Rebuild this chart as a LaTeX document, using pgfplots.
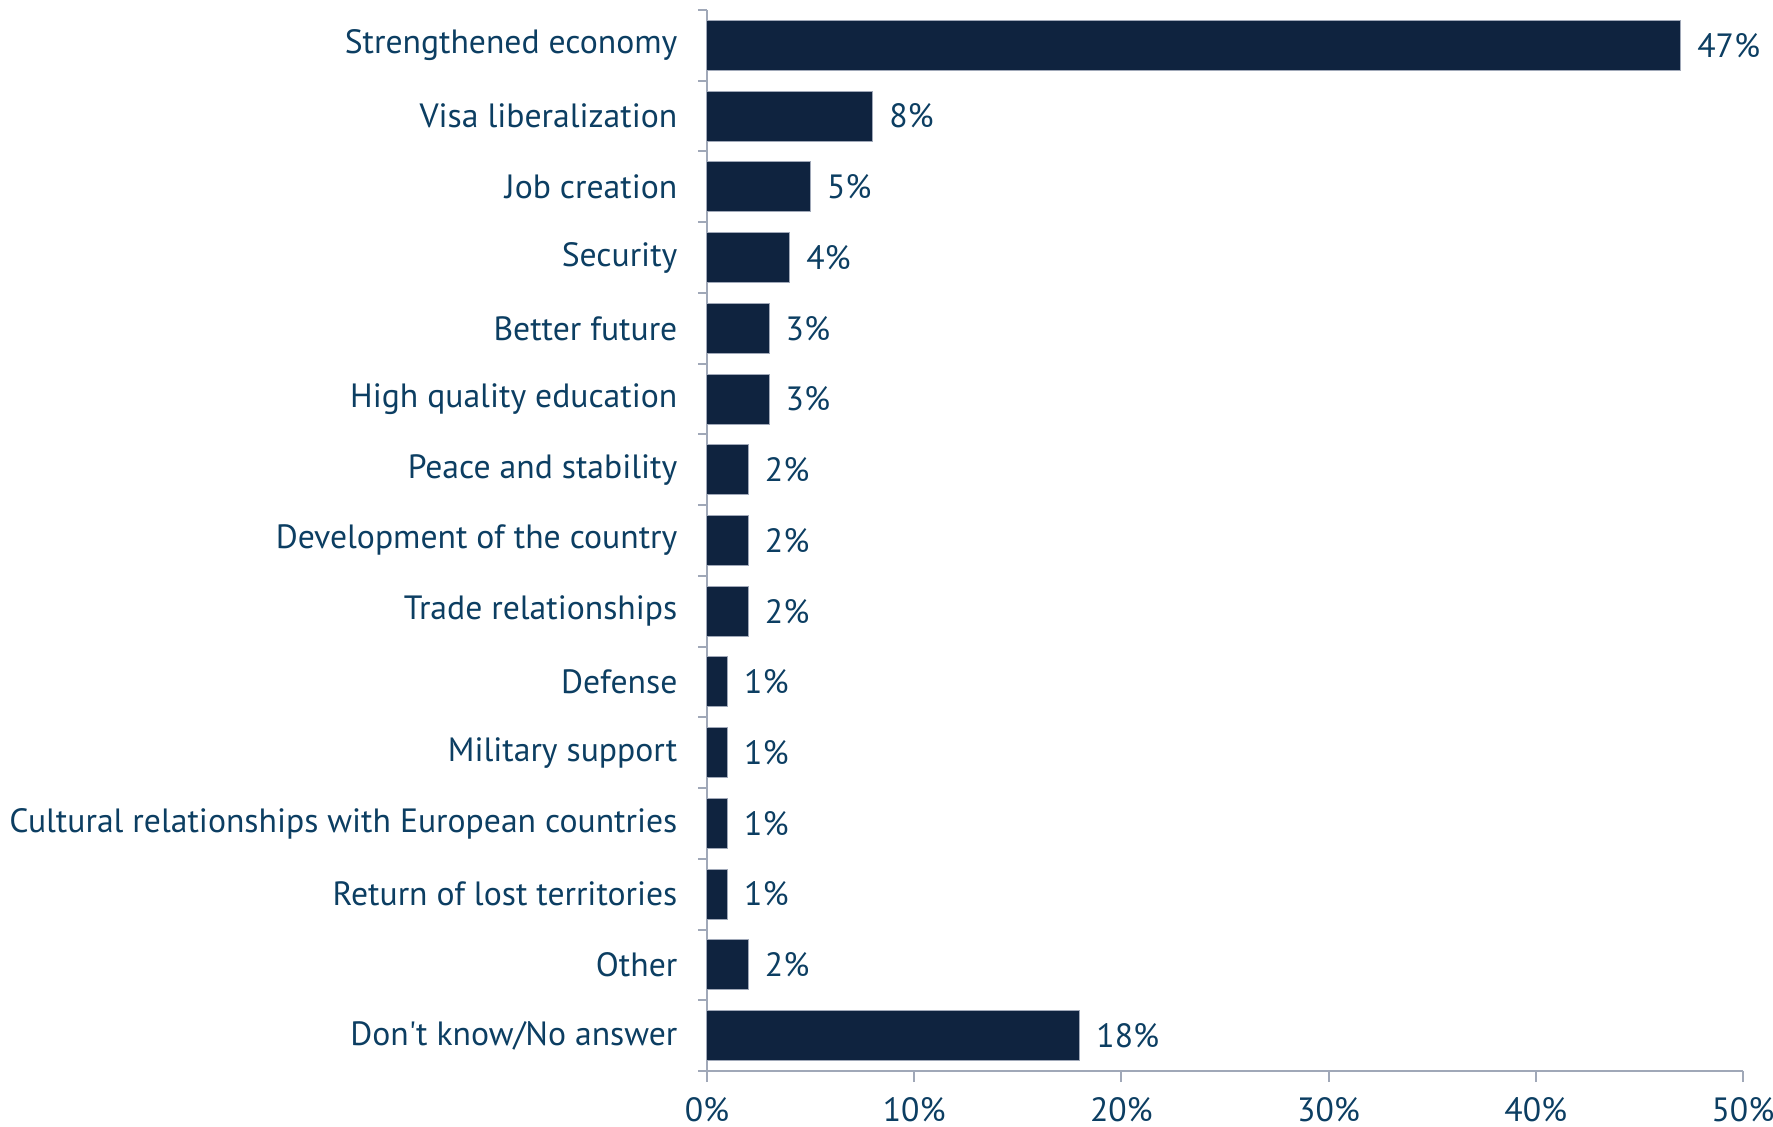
\documentclass[border=0pt]{standalone}
\usepackage{pgfplots}
\pgfplotsset{compat=1.18}
\usepackage{fontspec}
\setmainfont{PT Sans}
\definecolor{barc}{RGB}{15,35,63}
\definecolor{txt}{RGB}{12,62,98}
\definecolor{axc}{RGB}{160,168,184}
\begin{document}
\begin{tikzpicture}
\begin{axis}[
  scale only axis, width=310.8pt, height=318.3pt,
  xbar, bar width=15pt,
  xmin=0, xmax=50, ymin=-0.5, ymax=14.5,
  axis lines=left, axis line style={-, draw=axc, line width=0.6pt},
  tick align=outside,
  xtick={0,10,20,30,40,50},
  xticklabels={0\%,10\%,20\%,30\%,40\%,50\%},
  ytick={0,...,14},
  yticklabels={Don\textquotesingle t know/No answer,Other,Return of lost territories,Cultural relationships with European countries,Military support,Defense,Trade relationships,Development of the country,Peace and stability,High quality education,Better future,Security,Job creation,Visa liberalization,Strengthened economy},
  minor ytick={-0.5,0.5,...,14.5},
  major y tick style={draw=none},
  tick style={draw=axc, line width=0.6pt},
  major tick length=3.3pt, minor tick length=2.7pt,
  tick label style={text=txt, font=\fontsize{10.1}{12}\selectfont},
  yticklabel style={inner sep=0pt, xshift=-5.4pt},
  xticklabel style={inner sep=0pt, yshift=-4.5pt},
  point meta=x,
  nodes near coords={\pgfmathprintnumber[assume math mode=true]{\pgfplotspointmeta}\%},
  nodes near coords style={anchor=west, inner sep=0pt, xshift=4.8pt, text=txt, font=\fontsize{10.1}{12}\selectfont},
  clip=false,
]
\addplot[fill=barc, draw=axc, line width=0.3pt] coordinates {
(18,0) (2,1) (1,2) (1,3) (1,4) (1,5) (2,6) (2,7) (2,8) (3,9) (3,10) (4,11) (5,12) (8,13) (47,14)
};
\end{axis}
\pgfresetboundingbox
\path (-212.1pt,-16.7pt) rectangle (319.8pt,321.3pt);
\end{tikzpicture}
\end{document}
